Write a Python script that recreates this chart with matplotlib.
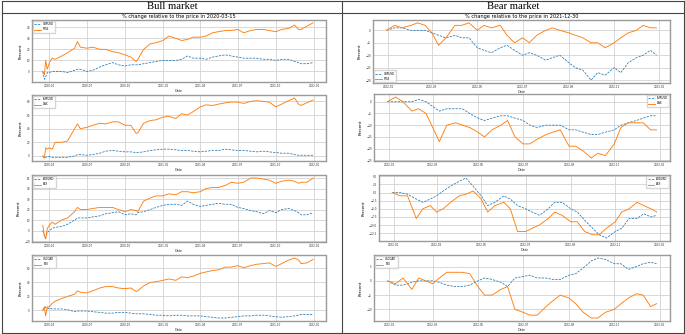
import matplotlib
matplotlib.use("Agg")
import matplotlib.pyplot as plt
import matplotlib.dates as mdates
import pandas as pd
from matplotlib.lines import Line2D

# Bull market (relative to 2020-03-15)
bull_dates = [
    "2020-03-16", "2020-03-20", "2020-03-23", "2020-03-27", "2020-04-01", "2020-04-08", "2020-04-15",
    "2020-05-01", "2020-05-15", "2020-06-01", "2020-06-08", "2020-06-15", "2020-07-01", "2020-07-15",
    "2020-08-01", "2020-08-15", "2020-09-01", "2020-09-15", "2020-10-01", "2020-10-15", "2020-10-28",
    "2020-11-01", "2020-11-15", "2020-12-01", "2020-12-15", "2021-01-01", "2021-01-15", "2021-02-01",
    "2021-02-15", "2021-03-01", "2021-03-15", "2021-04-01", "2021-04-15", "2021-05-01", "2021-05-15",
    "2021-06-01", "2021-06-15", "2021-07-01", "2021-07-15", "2021-08-01", "2021-08-15", "2021-09-01",
    "2021-09-15", "2021-10-01", "2021-10-15", "2021-11-01", "2021-11-15", "2021-11-25", "2021-12-01",
    "2021-12-15", "2021-12-30",
]
gbpusd_bull = [0, -7, -5, -1, -1, 0, 0, 0, -1, 1, 2, 2, 0, 1, 4, 6, 8, 6, 5, 6, 6, 6, 7, 8, 9, 10,
               10, 10, 11, 14, 12, 12, 11, 13, 14, 15, 14, 13, 12, 12, 12, 11, 11, 10, 11, 11, 9, 8, 7, 7, 8]
ftse_bull = [0, -3, 10, 2, 8, 12, 11, 14, 17, 21, 27, 22, 21, 22, 20, 20, 18, 17, 15, 13, 9, 11, 20, 25,
             26, 28, 32, 30, 28, 29, 31, 31, 32, 35, 36, 37, 37, 38, 35, 37, 38, 38, 37, 36, 38, 39, 42,
             38, 38, 41, 44]
eurusd_bull = [0, -3, -2, -1, -1, -2, -2, -2, -2, 0, 2, 2, 1, 2, 4, 7, 8, 7, 6, 6, 5, 5, 6, 8, 9, 10,
               10, 9, 8, 8, 7, 6, 7, 8, 8, 10, 9, 8, 8, 7, 6, 7, 6, 5, 4, 4, 2, 1, 1, 1, 1]
dax_bull = [0, -3, 12, 10, 12, 10, 20, 20, 22, 40, 47, 40, 42, 45, 48, 47, 50, 50, 45, 45, 33, 34, 48,
            52, 53, 57, 58, 55, 62, 60, 65, 72, 75, 74, 76, 78, 79, 79, 77, 80, 81, 80, 79, 72, 76, 81,
            85, 76, 74, 78, 82]
audusd_bull = [0, -5, -7, -2, 0, 2, 3, 4, 6, 10, 12, 12, 12, 13, 14, 16, 17, 18, 15, 16, 15, 17, 18,
               20, 22, 24, 25, 25, 24, 28, 25, 23, 24, 25, 26, 25, 25, 22, 21, 19, 18, 16, 19, 17, 20,
               21, 19, 17, 15, 15, 17]
asx_bull = [5, -5, -8, 2, 5, 8, 6, 10, 12, 18, 22, 20, 20, 21, 22, 22, 22, 20, 18, 20, 19, 18, 28, 31,
            33, 33, 35, 34, 37, 37, 36, 37, 40, 41, 41, 43, 46, 45, 46, 50, 50, 49, 48, 45, 47, 48, 47,
            45, 46, 46, 50]
usdcad_bull = [0, 3, 5, 2, 3, 2, 2, 2, 1, -2, -1, -1, -1, -2, -3, -4, -4, -3, -3, -4, -5, -5, -5, -6,
               -7, -7, -8, -7, -7, -8, -8, -8, -9, -10, -11, -11, -10, -9, -8, -8, -7, -7, -8, -9, -10,
               -9, -8, -7, -6, -6, -6]
tsx_bull = [0, 5, -8, 5, 5, 10, 13, 17, 20, 23, 28, 26, 25, 28, 32, 34, 34, 32, 31, 32, 27, 28, 35, 40,
            41, 43, 45, 43, 48, 47, 49, 53, 55, 57, 58, 62, 62, 64, 61, 64, 66, 67, 68, 63, 67, 72, 75,
            72, 67, 68, 73]

# Bear market (relative to 2021-12-30)
bear_dates = [
    "2021-12-30", "2022-01-10", "2022-01-20", "2022-02-01", "2022-02-10", "2022-02-20", "2022-03-01",
    "2022-03-10", "2022-03-20", "2022-04-01", "2022-04-10", "2022-04-20", "2022-05-01", "2022-05-10",
    "2022-05-20", "2022-06-01", "2022-06-10", "2022-06-20", "2022-07-01", "2022-07-10", "2022-07-20",
    "2022-08-01", "2022-08-10", "2022-08-20", "2022-09-01", "2022-09-10", "2022-09-20", "2022-10-01",
    "2022-10-10", "2022-10-20", "2022-11-01", "2022-11-10", "2022-11-20", "2022-12-01", "2022-12-10",
    "2022-12-20", "2022-12-28",
]
gbpusd_bear = [0, 1, 1, 0, 0, 0, -1, -2, -3, -2, -3, -3, -7, -8, -9, -7, -6, -8, -10, -9, -10, -12,
               -11, -10, -13, -15, -16, -20, -17, -18, -15, -17, -13, -11, -10, -8, -10]
ftse_bear = [0, 2, 1, 2, 3, 2, -1, -6, -3, 2, 2, 3, 0, 2, 1, 2, -2, -5, -3, -5, -2, 0, 1, 0, -1, -2,
             -3, -5, -5, -7, -5, -3, -1, 0, 2, 1, 1]
eurusd_bear = [0, 0, 0, 0, 1, 0, -2, -4, -3, -3, -3, -5, -7, -8, -7, -6, -6, -7, -8, -10, -11, -10,
               -10, -10, -12, -12, -13, -14, -14, -13, -12, -10, -9, -8, -7, -6, -6]
dax_bear = [0, 2, 0, -4, -3, -5, -11, -17, -10, -9, -10, -11, -13, -15, -12, -10, -8, -15, -18, -18,
            -16, -14, -13, -12, -19, -19, -21, -24, -22, -23, -18, -11, -9, -9, -9, -12, -12]
audusd_bear = [0, 0, -0.5, -2, -3, -2, -1, 0.5, 2, 3.5, 4.5, 2, -1, -4, -3, -1, -2, -4, -5, -6, -7,
               -5, -3, -3, -5, -6, -8.5, -11, -13, -14, -12, -11, -8, -8, -6.5, -7.5, -7]
asx_bear = [0, -1, -1, -8, -5, -4, -6, -5, -3, -1, -0.5, 0.5, -2, -6, -4, -3, -5, -12, -12, -11, -10,
            -8, -6, -7, -9, -9, -12, -13, -13, -11, -9, -6, -5, -3, -4, -5, -6]
usdcad_bear = [0, -1.5, -1.5, -0.5, 0, 0, 0, -0.5, -1.5, -2, -2, -1.5, 0, 1, 0.5, -0.5, -2, 1, 1.5, 2,
               1, 1, 0.5, 0.5, 2, 2.5, 4.5, 7, 8, 7.5, 6, 6, 4, 5, 6, 6.5, 6]
tsx_bear = [0, -1, 1, -3, 1, 0, -1, 1, 3, 3, 3, 2.5, -2, -5, -5, -3, -2, -10, -11, -12, -12, -9, -7,
            -5, -6, -8, -11, -13, -13, -11, -10, -8, -6, -4.5, -5, -9, -8]

W, H = 685, 334
fig = plt.figure(figsize=(W / 100, H / 100), dpi=100)


def add_ax(l, t, r, b):
    return fig.add_axes([l / W, 1 - b / H, (r - l) / W, (b - t) / H])


def draw_panel(ax, dates, fx, fx_name, idx, idx_name, loc, months):
    d = pd.to_datetime(dates)
    ax.plot(d, fx, linestyle=(0, (3, 1.5)), color="tab:blue", lw=0.55, label=fx_name)
    ax.plot(d, idx, "-", color="tab:orange", lw=0.65, label=idx_name)
    ax.grid(True, color="#d2d2d2", lw=0.6)
    ax.set_axisbelow(True)
    for s in ax.spines.values():
        s.set_color("#9a9a9a")
        s.set_linewidth(1.0)
    ax.tick_params(length=0, labelsize=2.0, pad=1.5, colors="#333333")
    ax.xaxis.set_major_locator(mdates.MonthLocator(bymonth=months))
    ax.xaxis.set_major_formatter(mdates.DateFormatter("%Y-%m"))
    ax.set_xlabel("Date", fontsize=2.4, labelpad=0.8, color="#333333")
    ax.set_ylabel("Percent", fontsize=3.0, labelpad=2.5)
    ax.legend(loc=loc, fontsize=1.9, frameon=True, edgecolor="#cccccc", handlelength=2.5,
              borderpad=0.5, labelspacing=0.4, borderaxespad=0.4)


bull_rows = [(20, 82), (95, 161), (175, 242), (255, 321)]
bull_series = [
    (gbpusd_bull, "GBPUSD", ftse_bull, "FTSE"),
    (eurusd_bull, "EURUSD", dax_bull, "DAX"),
    (audusd_bull, "AUDUSD", asx_bull, "ASX"),
    (usdcad_bull, "USDCAD", tsx_bull, "TSX"),
]
for (t, b), (fx, fxn, idx, idxn) in zip(bull_rows, bull_series):
    ax = add_ax(32, t, 325.5, b)
    draw_panel(ax, bull_dates, fx, fxn, idx, idxn, "upper left", [1, 4, 7, 10])
    ax.set_xlim(pd.Timestamp("2020-02-19"), pd.Timestamp("2022-01-29"))
    if t == 20:
        ax.set_title("% change relative to the price in 2020-03-15", fontsize=3.6, pad=1.5)

bear_boxes = [(373, 20, 670, 83), (374, 94, 670, 161), (379, 175, 670, 241), (374, 255, 670, 321)]
bear_series = [
    (gbpusd_bear, "GBPUSD", ftse_bear, "FTSE", "lower left"),
    (eurusd_bear, "EURUSD", dax_bear, "DAX", "upper right"),
    (audusd_bear, "AUDUSD", asx_bear, "ASX", "upper right"),
    (usdcad_bear, "USDCAD", tsx_bear, "TSX", "upper left"),
]
for (l, t, r, b), (fx, fxn, idx, idxn, loc) in zip(bear_boxes, bear_series):
    ax = add_ax(l, t, r, b)
    draw_panel(ax, bear_dates, fx, fxn, idx, idxn, loc, [1, 3, 5, 7, 9, 11])
    if t == 20:
        ax.set_title("% change relative to the price in 2021-12-30", fontsize=3.6, pad=1.5)

# table-like frame and headers
frame = dict(transform=fig.transFigure, color="#444444", lw=0.8)
for x0, y0, x1, y1 in [(1.5, 0.5, 683.5, 0.5), (1.5, 332.5, 683.5, 332.5), (1.5, 0.5, 1.5, 332.5),
                       (683.5, 0.5, 683.5, 332.5), (1.5, 12.5, 683.5, 12.5), (342, 0.5, 342, 332.5)]:
    fig.add_artist(Line2D([x0 / W, x1 / W], [1 - y0 / H, 1 - y1 / H], **frame))

fig.text(172 / W, 1 - 6.5 / H, "Bull market", family="Liberation Serif", fontsize=7.7,
         ha="center", va="center")
fig.text(513 / W, 1 - 6.5 / H, "Bear market", family="Liberation Serif", fontsize=7.7,
         ha="center", va="center")

fig.savefig("out.png", dpi=100)
